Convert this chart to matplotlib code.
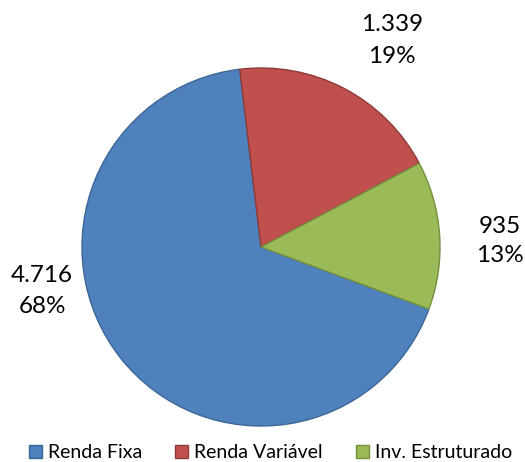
import matplotlib
matplotlib.use('Agg')
import matplotlib.pyplot as plt

categorias = ['Renda Fixa', 'Renda Variável', 'Inv. Estruturado']
valores = [4716, 1339, 935]
rotulos_valor = ['4.716', '1.339', '935']
percentuais = [68, 19, 13]

cores = ['#4F81BD', '#C0504D', '#9BBB59']
bordas = ['#3C6696', '#8E3A38', '#74903F']

plt.rcParams['font.family'] = ['Lato', 'DejaVu Sans']

fig = plt.figure(figsize=(5.25, 4.62), dpi=100)
ax = fig.add_axes([0, 0, 1, 1])

wedges, _ = ax.pie(valores, colors=cores, startangle=-20.3, counterclock=False,
                   center=(261, 215), radius=179,
                   wedgeprops=dict(linewidth=1.0))
for w, b in zip(wedges, bordas):
    w.set_edgecolor(b)

ax.set_xlim(0, 525)
ax.set_ylim(0, 462)
ax.set_aspect('equal')
ax.axis('off')

# rotulos: x central, linha de base do valor e do percentual (pixels, y para cima)
pos_rot = [(42, 180, 149), (392, 431, 399), (500, 229, 200)]
for (x, y1, y2), v, p in zip(pos_rot, rotulos_valor, percentuais):
    ax.text(x, y1, v, ha='center', va='baseline', fontsize=17.5, color='black')
    ax.text(x, y2, '%d%%' % p, ha='center', va='baseline', fontsize=17.5, color='black')

fig.legend(handles=wedges, labels=categorias, loc='center', bbox_to_anchor=(0.515, 0.02),
           ncol=3, frameon=False, fontsize=14, handlelength=0.68, handleheight=0.68,
           handletextpad=0.3, columnspacing=1.7, borderpad=0)

fig.savefig('out.png', dpi=100)
